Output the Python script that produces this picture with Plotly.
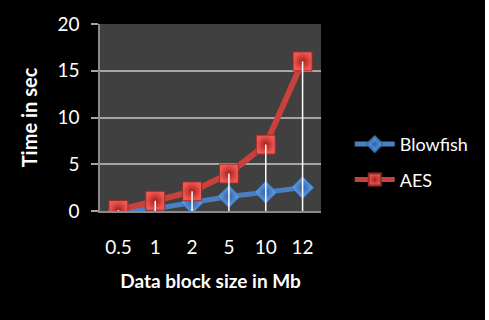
import plotly.graph_objects as go

categories = ["0.5", "1", "2", "5", "10", "12"]
blowfish = [0.0, 0.25, 0.9, 1.55, 2.0, 2.5]
aes = [0.1, 1.1, 2.1, 4.0, 7.1, 16.0]
y_ticks = [0, 5, 10, 15, 20]

FONT = "Lato"
BLUE = "#4a7fc1"
RED = "#c9403c"

fig = go.Figure()

fig.add_trace(go.Scatter(
    x=categories, y=blowfish, name="Blowfish", mode="lines+markers",
    line=dict(color=BLUE, width=5),
    marker=dict(symbol="diamond", size=17, color="#6aa6ea",
                gradient=dict(type="radial", color="#2e62a8"),
                line=dict(color="#3b6fb0", width=1)),
    legendgroup="b",
))
fig.add_trace(go.Scatter(
    x=categories, y=aes, name="AES", mode="lines+markers",
    line=dict(color=RED, width=6),
    marker=dict(symbol="square", size=19, color="#f05a55",
                gradient=dict(type="radial", color="#a8201c"),
                line=dict(color="#9a2a27", width=1)),
    legendgroup="a",
))

# drop lines from the highest series down to the axis
dx, dy = [], []
for c, v in zip(categories, aes):
    dx += [c, c, None]
    dy += [v, 0, None]
fig.add_trace(go.Scatter(
    x=dx, y=dy, mode="lines", line=dict(color="white", width=1.5),
    showlegend=False, hoverinfo="skip",
))

fig.update_layout(
    width=485, height=320,
    margin=dict(l=100, r=163, t=24, b=109),
    paper_bgcolor="black",
    plot_bgcolor="#404040",
    font=dict(family=FONT, color="white", size=16),
    legend=dict(x=1.125, y=0.455, xanchor="left", yanchor="top",
                bgcolor="rgba(0,0,0,0)", font=dict(size=18, color="white"),
                traceorder="grouped", tracegroupgap=9, itemsizing="constant",
                itemwidth=40),
    xaxis=dict(
        type="category", showgrid=False, showline=True, linecolor="#8a8a8a",
        linewidth=1.5, ticks="", ticklabelstandoff=18,
        tickfont=dict(size=19, color="white"),
        title=dict(text="<b>Data block size in Mb</b>", font=dict(size=19), standoff=18),
        range=[-0.5, 5.5],
    ),
    yaxis=dict(
        range=[0, 20], tickvals=y_ticks, showgrid=True, gridcolor="#a5a5a5",
        gridwidth=1.5, showline=True, linecolor="#8a8a8a", linewidth=1.5,
        ticks="outside", ticklen=7, tickcolor="#a5a5a5", tickwidth=1.5,
        ticklabelstandoff=8,
        tickfont=dict(size=19, color="white"), zeroline=False,
        title=dict(text="<b>Time in sec</b>", font=dict(size=20), standoff=14),
    ),
)

fig.write_html("out.html")
